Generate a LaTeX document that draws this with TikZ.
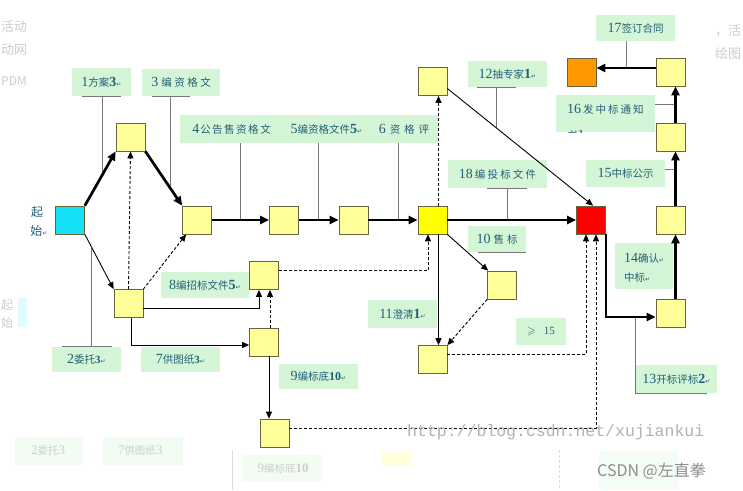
\documentclass[tikz,border=0pt]{standalone}
\usepackage{fontspec}
\usepackage{amssymb}
\setmainfont{Liberation Serif}
\newfontfamily\cjk{Noto Sans CJK SC}
\newfontfamily\dvs{DejaVu Sans}
\newfontfamily\lmono{Liberation Mono}
\usetikzlibrary{arrows.meta,calc}
\definecolor{lyellow}{RGB}{255,255,153}
\definecolor{byellow}{RGB}{255,255,0}
\definecolor{bred}{RGB}{255,0,0}
\definecolor{borange}{RGB}{255,153,0}
\definecolor{bcyan}{RGB}{20,225,245}
\definecolor{lgreen}{RGB}{212,246,214}
\definecolor{tcol}{RGB}{35,95,120}
\definecolor{bbord}{RGB}{110,100,60}
\definecolor{lgray}{RGB}{120,120,120}
\definecolor{ghost}{RGB}{205,205,205}
\newcommand\zhs[1]{{\cjk\fontsize{10.5}{13}\selectfont #1}}
\newcommand\ret{{\dvs\fontsize{6}{6}\selectfont ↵}}
\begin{document}
\begin{tikzpicture}[x=1pt,y=-1pt,
  box/.style={draw=bbord, line width=0.7pt, fill=lyellow, minimum width=29pt, minimum height=28pt, inner sep=0pt},
  lab/.style={fill=lgreen, inner sep=0pt, text=tcol, font=\fontsize{14}{16}\selectfont},
  txt/.style={inner sep=0pt, text=tcol, font=\fontsize{14}{16}\selectfont},
  thk/.style={line width=2.7pt, -{Triangle[length=9pt,width=8pt]}},
  thn/.style={line width=0.9pt, -{Triangle[length=7pt,width=6pt]}},
  dsh/.style={line width=0.9pt, dash pattern=on 3pt off 2pt, -{Triangle[length=7pt,width=6pt]}},
  leader/.style={draw=lgray, line width=0.8pt},
  gtxt/.style={inner sep=0pt, text=ghost},
]
\useasboundingbox (0,0) rectangle (743,490);
\fill[white] (0,0) rectangle (743,490);

% ---------- faint ghost fragments ----------
\node[gtxt, anchor=west, font=\cjk\fontsize{13}{13}\selectfont] (g1) at (1,27) {活动};
\node[gtxt, anchor=west, font=\cjk\fontsize{13}{13}\selectfont] (g2) at (1,50) {动网};
\node[gtxt, anchor=west, font=\cjk\fontsize{12}{12}\selectfont] (g3) at (1,81) {PDM};
\node[gtxt, anchor=west, font=\cjk\fontsize{13}{13}\selectfont] (g4) at (715,31) {，活};
\node[gtxt, anchor=west, font=\cjk\fontsize{13}{13}\selectfont] (g5) at (715,54) {绘图};
\node[gtxt, anchor=west, font=\cjk\fontsize{12}{12}\selectfont] (g6) at (1,305) {起};
\node[gtxt, anchor=west, font=\cjk\fontsize{12}{12}\selectfont] (g7) at (1,323) {始};
\fill[bcyan!12] (18,298) rectangle (27,327);
\fill[lgreen!30] (15,437) rectangle (83,465);
\node[gtxt, font=\fontsize{13}{13}\selectfont] (g8) at (48,451) {2\zhs{委托}3};
\fill[lgreen!30] (103,437) rectangle (183,465);
\node[gtxt, font=\fontsize{13}{13}\selectfont] (g9) at (140,451) {7\zhs{供图纸}3};
\draw[ghost!70, line width=0.6pt] (232,450) -- (232,490);
\fill[lgreen!30] (242,455) rectangle (322,482);
\node[gtxt, font=\fontsize{13}{13}\selectfont] (g10) at (283,468) {9\zhs{编标底}\textbf{10}};
\fill[lyellow!35] (382,451) rectangle (411,466);
\draw[ghost!70, line width=0.6pt, dash pattern=on 3pt off 2pt] (559,450) -- (559,490);
\fill[lgreen!25] (599,451) rectangle (678,490);

% ---------- squares ----------
\node[box, fill=bcyan] (S) at (70,220) {};
\node[box] (A) at (130.5,137) {};
\node[box] (B) at (128.5,303.5) {};
\node[box] (C) at (197,220) {};
\node[box] (D) at (284,220) {};
\node[box] (E) at (353.5,220) {};
\node[box, fill=byellow] (F) at (432.5,220) {};
\node[box] (G) at (264,275.5) {};
\node[box] (H) at (264,342) {};
\node[box] (I) at (274.5,433) {};
\node[box] (J) at (502,285) {};
\node[box] (K) at (432.5,359.5) {};
\node[box] (L) at (432.5,81.5) {};
\node[box, fill=bred] (R) at (591,220) {};
\node[box] (M) at (670.5,313) {};
\node[box] (N) at (670.5,220) {};
\node[box] (P) at (670.5,137) {};
\node[box] (Q) at (670.5,72) {};
\node[box, fill=borange] (O) at (581.5,72) {};

% ---------- labels ----------
\node[txt, font=\cjk\fontsize{12}{12}\selectfont] (st1) at (37,212) {起};
\node[txt, font=\cjk\fontsize{12}{12}\selectfont] (st2) at (39,231) {始\ret};

\node[lab, minimum width=59pt, minimum height=28pt] (l1) at (101.5,82) {1\zhs{方案}\textbf{3}\ret};
\node[lab, minimum width=78pt, minimum height=27pt] (l3) at (181,82.5) {3\hspace{3pt}\zhs{编\hspace{2.5pt}资\hspace{2.5pt}格\hspace{2.5pt}文}};
\node[lab, minimum width=103pt, minimum height=28pt] (l4) at (231.5,129) {4\hspace{1pt}\zhs{公\hspace{1.5pt}告\hspace{1.5pt}售\hspace{1.5pt}资\hspace{1.5pt}格\hspace{1.5pt}文}};
\node[lab, minimum width=87pt, minimum height=28pt] (l5) at (326.5,129) {5\zhs{编资格文件}\textbf{5}\ret};
\node[lab, minimum width=68pt, minimum height=28pt] (l6) at (404,129) {6\hspace{4pt}\zhs{资\hspace{4pt}格\hspace{4pt}评}};
\node[lab, minimum width=79pt, minimum height=26pt] (l12) at (507.5,74) {12\zhs{抽专家}\textbf{1}\ret};
\node[lab, minimum width=99pt, minimum height=28pt] (l18) at (497.5,174) {18\hspace{2pt}\zhs{编\hspace{2.2pt}投\hspace{2.2pt}标\hspace{2.2pt}文\hspace{2.2pt}件}};
\node[lab, minimum width=58pt, minimum height=26pt] (l10) at (497,239) {10\hspace{3pt}\zhs{售\hspace{3pt}标}};
\node[lab, minimum width=69pt, minimum height=28pt] (l11) at (402.5,314) {11\zhs{澄清}\textbf{1}\ret};
\node[lab, minimum width=50pt, minimum height=27pt, font=\fontsize{11}{13}\selectfont] (lge) at (541,331.5) {$\geqslant$\hspace{8pt}15};
\node[lab, minimum width=88pt, minimum height=26pt] (l8) at (205,285) {8\zhs{编招标文件}\textbf{5}\ret};
\node[lab, minimum width=69pt, minimum height=25pt] (l2) at (86.5,359.5) {2\zhs{委托}\textbf{\fontsize{11}{13}\selectfont 3}\ret};
\node[lab, minimum width=79pt, minimum height=25pt] (l7) at (180.5,359.5) {7\zhs{供图纸}\textbf{\fontsize{11}{13}\selectfont 3}\ret};
\node[lab, minimum width=79pt, minimum height=25pt] (l9) at (318.5,376.5) {9\zhs{编标底}\textbf{\fontsize{12}{13}\selectfont 10}\ret};
\node[lab, minimum width=81pt, minimum height=28pt] (l13) at (676.5,379) {13\zhs{开标评标}\textbf{2}\ret};
\node[lab, minimum width=58pt, minimum height=46pt] (l14) at (644,266) {};
\node[txt, anchor=west] (l14a) at ($(l14.west)+(9,-8)$) {14\zhs{确认}\ret};
\node[txt, anchor=west] (l14b) at ($(l14.west)+(9,11)$) {\zhs{中标}\ret};
\node[lab, minimum width=79pt, minimum height=27pt] (l15) at (625.5,173.5) {15\zhs{中标公示}};
\node[lab, minimum width=99pt, minimum height=37pt] (l16) at (605.5,113.5) {};
\begin{scope}
  \clip (l16.south west) rectangle (l16.north east);
  \node[txt, anchor=west] (l16a) at ($(l16.west)+(11,-4)$) {16\hspace{2pt}\zhs{发\hspace{2pt}中\hspace{2pt}标\hspace{2pt}通\hspace{2pt}知}};
  \node[txt, anchor=west] (l16b) at ($(l16.west)+(11,22)$) {\zhs{书}1};
\end{scope}
\node[lab, minimum width=79pt, minimum height=26pt] (l17) at (635.5,28) {17\zhs{签订合同}};

% ---------- helper coordinates ----------
\coordinate (Lo) at ([yshift=-7pt]L.east);
\coordinate (Ri) at ([xshift=2pt]R.north);
\coordinate (Mi) at ([yshift=-4pt]M.west);
\coordinate (Qo) at ([yshift=4pt]Q.west);
\coordinate (Nx) at ([xshift=5pt]N.north);
\coordinate (Hb) at ([xshift=5pt]H.south);

% ---------- leader lines ----------
\coordinate (p1) at ($(S.north east)!0.57!(A.south west)$);
\draw[leader] (p1 |- l1.south) -- (p1);
\coordinate (u1) at (p1 |- l1.south);
\draw[leader] ($(u1)+(-20,0)$) -- ($(u1)+(19,0)$);

\coordinate (p3) at ($(A.south east)!0.69!(C.north west)$);
\draw[leader] (p3 |- l3.south) -- (p3);
\coordinate (u3) at (p3 |- l3.south);
\draw[leader] ($(u3)+(-19,0)$) -- ($(u3)+(19,0)$);

\coordinate (p4) at ($(C.east)!0.5!(D.west)$);
\draw[leader] (p4 |- l4.south) -- (p4);
\coordinate (p5) at ($(D.east)!0.5!(E.west)$);
\draw[leader] (p5 |- l5.south) -- (p5);
\coordinate (p6) at ($(E.east)!0.6!(F.west)$);
\draw[leader] (p6 |- l6.south) -- (p6);

\coordinate (p12) at ($(Lo)!0.34!(Ri)$);
\draw[leader] (p12 |- l12.south) -- (p12);
\coordinate (u12) at (p12 |- l12.south);
\draw[leader] ($(u12)+(-20,0)$) -- ($(u12)+(19,0)$);

\coordinate (p18) at ($(F.east)!0.465!(R.west)$);
\draw[leader] (p18 |- l18.south) -- (p18);
\coordinate (u18) at (p18 |- l18.south);
\draw[leader] ($(u18)+(-20,0)$) -- ($(u18)+(20,0)$);

\draw[leader] ($(l10.south west)+(10,0)$) -- (l10.south east);

\coordinate (p2) at ($(S.south east)!0.24!(B.north west)$);
\draw[leader] (p2 |- l2.north) -- (p2);
\coordinate (u2) at (p2 |- l2.north);
\draw[leader] ($(u2)+(-30,0)$) -- ($(u2)+(20,0)$);

\draw[leader] (l13.west |- Mi) -- (l13.south west) -- ($(l13.south east)+(-10,0)$);
\coordinate (p15) at ([yshift=4.5pt]l15.east);
\draw[leader] (p15) -- (p15 -| Nx);
\coordinate (p16) at ([yshift=9.5pt]l16.east);
\draw[leader] (p16) -- (p16 -| Nx);
\coordinate (p17) at ($(l17.south)+(-9.5,0)$);
\draw[leader] (p17) -- (p17 |- Qo);

% ---------- connectors ----------
\draw[thk] (S.north east) -- (A.south west);
\draw[thk] (A.south east) -- (C.north west);
\draw[thn] (S.south east) -- (B.north west);
\draw[dsh] (B.north) -- (A.south);
\draw[dsh] (B.north east) -- ([xshift=4pt]C.south west);
\draw[thk] (C.east) -- (D.west);
\draw[thk] (D.east) -- (E.west);
\draw[thk] (E.east) -- (F.west);
\draw[thk] (F.east) -- (R.west);
\draw[dsh] ([xshift=6pt]F.north) -- ([xshift=6pt]L.south);
\draw[thn] (Lo) -- (Ri);
\draw[thn] (F.south east) -- ([xshift=1pt]J.north west);
\draw[thn] ([xshift=6pt]F.south) -- ([xshift=6pt]K.north);
\draw[dsh] (J.south west) -- (K.north east);
\draw[dsh] ([yshift=5pt]G.east) -| ([xshift=-4.5pt]F.south);
\draw[dsh] ([yshift=5pt]K.east) -| ([xshift=-5pt]R.south);
\draw[dsh] ([yshift=5pt]I.east) -| ([xshift=5pt]R.south);
\draw[thn] ([yshift=-4.5pt]B.east) -| ([xshift=-5pt]G.south);
\draw[thn] ([xshift=2.5pt]B.south) |- ([yshift=-3pt]H.west);
\draw[dsh] ([xshift=6pt]H.north) -- ([xshift=6pt]G.south);
\draw[thn] (Hb) -- (Hb |- I.north);
\draw[thk] (R.south east) |- (Mi);
\draw[thk] ([xshift=5pt]M.north) -- ([xshift=5pt]N.south);
\draw[thk] ([xshift=5pt]N.north) -- ([xshift=5pt]P.south);
\draw[thk] ([xshift=5pt]P.north) -- ([xshift=5pt]Q.south);
\draw[thk] (Qo) -- ([yshift=4pt]O.east);

% ---------- watermarks ----------
\node[inner sep=0pt, anchor=west, text=black!30, font=\lmono\fontsize{16.5}{17}\selectfont] (wm1) at (407,432) {http://blog.csdn.net/xujiankui};
\node[inner sep=0pt, anchor=west, text=black!45, font=\cjk\fontsize{16}{17}\selectfont] (wm2) at (597,471) {CSDN @左直拳};
\end{tikzpicture}
\end{document}
